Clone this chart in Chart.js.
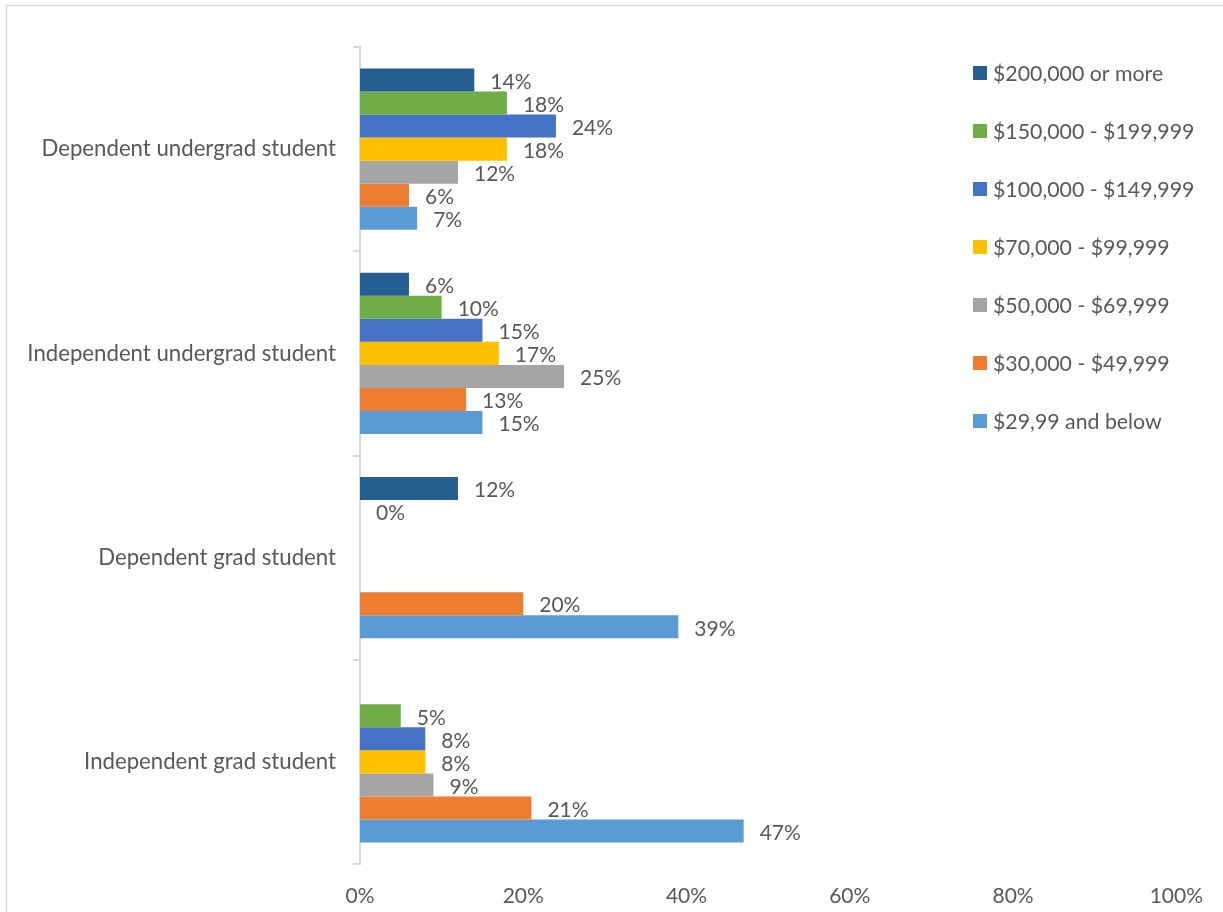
<!DOCTYPE html>
<html>
<head>
<meta charset="utf-8">
<script src="https://cdn.jsdelivr.net/npm/chart.js@4.4.0/dist/chart.umd.min.js"></script>
<style>
  html, body { margin: 0; padding: 0; background: #fff; }
  canvas { display: block; }
</style>
</head>
<body>
<canvas id="income-chart" width="1223" height="912"></canvas>
<script>
// student groups, top to bottom
var groups = ['Dependent undergrad student', 'Independent undergrad student', 'Dependent grad student', 'Independent grad student']

// income brackets (one dataset each)
var brackets = ['$200,000 or more', '$150,000 - $199,999', '$100,000 - $149,999', '$70,000 - $99,999', '$50,000 - $69,999', '$30,000 - $49,999', '$29,99 and below']
var colors = ['#255E91', '#70AD47', '#4472C4', '#FFC000', '#A5A5A5', '#ED7D31', '#5B9BD5']

// percent of each group per bracket, null = no bar
var over200k   = [14, 6, 12, null]
var from150k   = [18, 10, 0, 5]
var from100k   = [24, 15, null, 8]
var from70k    = [18, 17, null, 8]
var from50k    = [12, 25, null, 9]
var from30k    = [6, 13, 20, 21]
var under30k   = [7, 15, 39, 47]

var xTicks = [0, 20, 40, 60, 80, 100]

var seriesValues = [over200k, from150k, from100k, from70k, from50k, from30k, under30k]

var textColor = '#595959'
var fontFamily = 'Lato, "Open Sans", sans-serif'

var datasets = brackets.map(function (label, i) {
    return {
        label: label,
        data: seriesValues[i],
        backgroundColor: colors[i],
        borderWidth: 0,
        barPercentage: 1,
        categoryPercentage: 0.79
    }
})

// white page with the light frame round it
var framePlugin = {
    id: 'frame',
    beforeDraw: function (chart) {
        var ctx = chart.ctx
        ctx.save()
        ctx.fillStyle = '#fff'
        ctx.fillRect(0, 0, chart.width, chart.height)
        ctx.strokeStyle = '#d9d9d9'
        ctx.lineWidth = 1.5
        ctx.beginPath()
        ctx.moveTo(6.5, chart.height + 2)
        ctx.lineTo(6.5, 5.5)
        ctx.lineTo(chart.width + 2, 5.5)
        ctx.stroke()
        ctx.restore()
    }
}

// value labels just past the end of each bar
var valueLabels = {
    id: 'valueLabels',
    afterDatasetsDraw: function (chart) {
        var ctx = chart.ctx
        ctx.save()
        ctx.font = '21px ' + fontFamily
        ctx.fillStyle = textColor
        ctx.textAlign = 'left'
        ctx.textBaseline = 'middle'
        chart.data.datasets.forEach(function (ds, i) {
            chart.getDatasetMeta(i).data.forEach(function (bar, j) {
                var v = ds.data[j]
                if (v === null) return
                ctx.fillText(v + '%', bar.x + 16, bar.y + 2)
            })
        })
        ctx.restore()
    }
}

// legend stacked on the right, over the empty part of the plot
var sideLegend = {
    id: 'sideLegend',
    afterDraw: function (chart) {
        var ctx = chart.ctx
        ctx.save()
        ctx.font = '21.3px ' + fontFamily
        ctx.textAlign = 'left'
        ctx.textBaseline = 'middle'
        chart.data.datasets.forEach(function (ds, i) {
            var y = 73 + i * 58
            ctx.fillStyle = ds.backgroundColor
            ctx.fillRect(973, y - 7, 14, 14)
            ctx.fillStyle = textColor
            ctx.fillText(ds.label, 993, y + 1)
        })
        ctx.restore()
    }
}

new Chart(
    document.getElementById('income-chart').getContext('2d'),
    {
        type: 'bar',
        data: {
            labels: groups,
            datasets: datasets
        },
        options: {
            indexAxis: 'y',
            responsive: false,
            animation: false,
            devicePixelRatio: 1,
            layout: {
                padding: { top: 47, right: 45, left: 0, bottom: 0 }
            },
            plugins: {
                legend: { display: false },
                tooltip: { enabled: false }
            },
            scales: {
                x: {
                    min: 0,
                    max: 100,
                    afterBuildTicks: function (scale) {
                        scale.ticks = xTicks.map(function (v) { return { value: v } })
                    },
                    ticks: {
                        callback: function (value) { return value + '%' },
                        color: textColor,
                        font: { family: fontFamily, size: 21 },
                        padding: 20
                    },
                    grid: { display: false, drawTicks: false },
                    border: { display: false },
                    afterFit: function (scale) { scale.height = 48 }
                },
                y: {
                    grid: {
                        offset: true,
                        drawOnChartArea: false,
                        tickLength: 7,
                        color: '#d9d9d9',
                        lineWidth: 2
                    },
                    border: { color: '#d9d9d9', width: 2 },
                    ticks: {
                        color: textColor,
                        font: { family: fontFamily, size: 22.2 },
                        padding: 17
                    },
                    afterFit: function (scale) { scale.width = 360 }
                }
            }
        },
        plugins: [framePlugin, valueLabels, sideLegend]
    }
)
</script>
</body>
</html>
